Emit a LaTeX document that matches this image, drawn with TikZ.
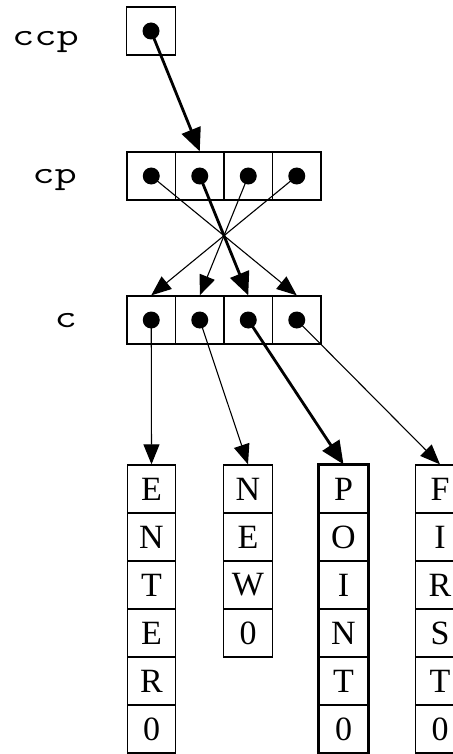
\documentclass[tikz,border=0pt]{standalone}
\usepackage{fontspec}
\setmainfont{Liberation Serif}
\usetikzlibrary{arrows.meta}
\begin{document}
\begin{tikzpicture}[x=1pt,y=-1pt,
  cell/.style={draw, line width=1.3pt, minimum width=48.5pt, minimum height=48pt, inner sep=0pt},
  letter/.style={cell, font=\fontsize{34}{34}\selectfont},
  dot/.style={circle, fill, inner sep=0pt, minimum size=17pt},
  ptr/.style={-{Triangle[length=20pt,width=16pt]}, line width=1.1pt},
  tptr/.style={-{Triangle[length=23pt,width=20pt]}, line width=2.8pt},
  lab/.style={font=\ttfamily\fontsize{32}{32}\selectfont, anchor=base east, inner sep=0pt}]
\useasboundingbox (0,0) rectangle (452,754);
% labels
\node[lab] (lccp) at (79,46) {\scalebox{1.35}[1]{ccp}};
\node[lab] (lcp) at (77,183) {\scalebox{1.35}[1]{cp}};
\node[lab] (lc) at (77,327) {\scalebox{1.35}[1]{c}};
% ccp
\node[cell] (ccp) at (151,31) {};
\node[dot] (ccpd) at (151,31) {};
% cp and c rows
\foreach \i/\x in {1/151.25,2/199.75,3/248.25,4/296.75}{
  \node[cell] (cp\i) at (\x,176) {};
  \node[dot] (cpd\i) at (\x,176) {};
  \node[cell] (c\i) at (\x,320) {};
  \node[dot] (cd\i) at (\x,320) {};
}
% string columns
\foreach \ch [count=\i] in {E,N,T,E,R,0} \node[letter] (a\i) at (151.5,441+48*\i) {\ch};
\foreach \ch [count=\i] in {N,E,W,0} \node[letter] (b\i) at (248,441+48*\i) {\ch};
\foreach \ch [count=\i] in {P,O,I,N,T,0} \node[letter] (p\i) at (343.5,441+48*\i) {\ch};
\foreach \ch [count=\i] in {F,I,R,S,T,0} \node[letter] (f\i) at (440,441+48*\i) {\ch};
\draw[line width=3pt] (p1.north west) rectangle (p6.south east);
% pointers
\draw[tptr] (ccpd.center) -- (cp2.north);
\draw[ptr] (cpd1.center) -- (c4.north);
\draw[tptr] (cpd2.center) -- (c3.north);
\draw[ptr] (cpd3.center) -- (c2.north);
\draw[ptr] (cpd4.center) -- (c1.north);
\draw[ptr] (cd1.center) -- (a1.north);
\draw[ptr] (cd2.center) -- (b1.north);
\draw[tptr] (cd3.center) -- (p1.north);
\draw[ptr] (cd4.center) -- (f1.north);
\end{tikzpicture}
\end{document}
